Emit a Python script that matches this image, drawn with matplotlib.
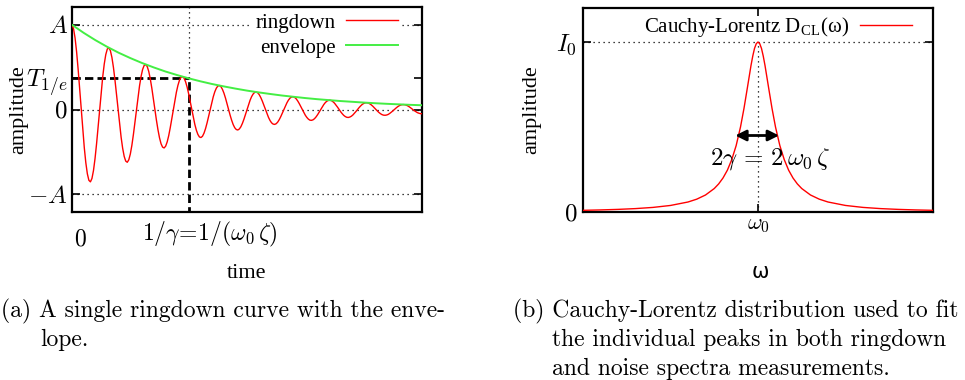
import matplotlib
matplotlib.use('Agg')
import matplotlib.pyplot as plt
import numpy as np

plt.rcParams['mathtext.fontset'] = 'cm'
plt.rcParams['font.family'] = ['Liberation Serif', 'DejaVu Serif']

# ringdown curve, sampled evenly over 0 .. 3/gamma (229 samples)
ringdown = [
    1.000, 0.953, 0.844, 0.680, 0.474, 0.242, 0.000, -0.236, -0.450, -0.628, -0.759, -0.836,
    -0.854, -0.814, -0.720, -0.580, -0.405, -0.207, 0.000, 0.202, 0.384, 0.536, 0.648, 0.714,
    0.729, 0.695, 0.615, 0.496, 0.346, 0.177, 0.000, -0.172, -0.328, -0.458, -0.554, -0.609,
    -0.623, -0.594, -0.525, -0.423, -0.295, -0.151, 0.000, 0.147, 0.280, 0.391, 0.473, 0.520,
    0.532, 0.507, 0.449, 0.361, 0.252, 0.129, 0.000, -0.126, -0.239, -0.334, -0.404, -0.444,
    -0.454, -0.433, -0.383, -0.309, -0.215, -0.110, 0.000, 0.107, 0.204, 0.285, 0.345, 0.380,
    0.388, 0.370, 0.327, 0.264, 0.184, 0.094, 0.000, -0.092, -0.175, -0.244, -0.294, -0.324,
    -0.331, -0.316, -0.279, -0.225, -0.157, -0.080, 0.000, 0.078, 0.149, 0.208, 0.251, 0.277,
    0.283, 0.270, 0.238, 0.192, 0.134, 0.069, 0.000, -0.067, -0.127, -0.178, -0.215, -0.236,
    -0.242, -0.230, -0.204, -0.164, -0.115, -0.059, 0.000, 0.057, 0.109, 0.152, 0.183, 0.202,
    0.206, 0.197, 0.174, 0.140, 0.098, 0.050, 0.000, -0.049, -0.093, -0.130, -0.157, -0.172,
    -0.176, -0.168, -0.149, -0.120, -0.084, -0.043, 0.000, 0.042, 0.079, 0.111, 0.134, 0.147,
    0.150, 0.143, 0.127, 0.102, 0.071, 0.036, 0.000, -0.036, -0.068, -0.094, -0.114, -0.126,
    -0.128, -0.122, -0.108, -0.087, -0.061, -0.031, 0.000, 0.030, 0.058, 0.081, 0.098, 0.107,
    0.110, 0.105, 0.092, 0.075, 0.052, 0.027, 0.000, -0.026, -0.049, -0.069, -0.083, -0.092,
    -0.094, -0.089, -0.079, -0.064, -0.044, -0.023, 0.000, 0.022, 0.042, 0.059, 0.071, 0.078,
    0.080, 0.076, 0.067, 0.054, 0.038, 0.019, 0.000, -0.019, -0.036, -0.050, -0.061, -0.067,
    -0.068, -0.065, -0.058, -0.046, -0.032, -0.017, 0.000, 0.016, 0.031, 0.043, 0.052, 0.057,
    0.058, 0.056, 0.049, 0.040, 0.028, 0.014, 0.000, -0.014, -0.026, -0.037, -0.044, -0.049,
    -0.050,
]
# envelope, sampled every 0.1 over 0 .. 3
envelope = [
    1.000, 0.905, 0.819, 0.741, 0.670, 0.607, 0.549, 0.497, 0.449, 0.407,
    0.368, 0.333, 0.301, 0.273, 0.247, 0.223, 0.202, 0.183, 0.165, 0.150,
    0.135, 0.122, 0.111, 0.100, 0.091, 0.082, 0.074, 0.067, 0.061, 0.055, 0.050,
]
t_end = 3.0
t_decay = 1.0
t_half = 0.368

# Cauchy-Lorentz peak (omega measured from omega_0, in units of gamma)
lor_w = [-10, -9, -8, -7, -6, -5, -4, -3.5, -3, -2.5, -2.25, -2, -1.75, -1.5,
         -1.25, -1, -0.8, -0.6, -0.4, -0.3, -0.2, -0.1, 0,
         0.1, 0.2, 0.3, 0.4, 0.6, 0.8, 1, 1.25, 1.5, 1.75, 2, 2.25, 2.5, 3,
         3.5, 4, 5, 6, 7, 8, 9, 10]
lor_i = [0.0099, 0.0122, 0.0154, 0.0200, 0.0270, 0.0385, 0.0588, 0.0755, 0.100,
         0.138, 0.165, 0.200, 0.246, 0.308, 0.390, 0.500, 0.610, 0.735, 0.862,
         0.917, 0.962, 0.990, 1.000,
         0.990, 0.962, 0.917, 0.862, 0.735, 0.610, 0.500, 0.390, 0.308, 0.246,
         0.200, 0.165, 0.138, 0.100, 0.0755, 0.0588, 0.0385, 0.0270, 0.0200,
         0.0154, 0.0122, 0.0099]
fwhm_left, fwhm_right, fwhm_level = -1.3, 1.2, 0.45

left_yticks = [-1, t_half, 0, 1]
left_ylabels = [r'$-A$', r'$T_{1/e}$', r'$0$', r'$A$']

t_ring = np.linspace(0, t_end, len(ringdown))
t_env = np.linspace(0, t_end, len(envelope))

fig = plt.figure(figsize=(9.65, 3.8), dpi=100)
ax1 = fig.add_axes([72/965, 1-212/380, 350/965, 205/380])
ax2 = fig.add_axes([583/965, 1-212/380, 350/965, 204/380])

dot = dict(color='black', lw=0.9, ls=(0, (1, 3)))
dash = dict(color='black', lw=2, ls=(0, (3, 1.5)))

# ---- (a) ringdown ----
for yv in [-1, 0, 1]:
    ax1.axhline(yv, zorder=1, **dot)
ax1.plot([t_decay, t_decay], [t_half, 1.25], zorder=1, **dot)
ax1.plot([0, t_decay], [t_half, t_half], zorder=3, **dash)
ax1.plot([t_decay, t_decay], [-1.25, t_half], zorder=3, **dash)
ax1.plot(t_ring, ringdown, color='#ff0000', lw=1.0, label='ringdown', zorder=4)
ax1.plot(t_env, envelope, color='#44ee44', lw=1.4, label='envelope', zorder=4)
ax1.set_xlim(0, t_end)
ax1.set_ylim(-1.21, 1.21)
ax1.set_yticks(left_yticks, left_ylabels)
ax1.set_xticks([])
ax1.tick_params(axis='y', labelsize=18, pad=3, direction='in', length=6,
                width=1.2, right=True)
xl = dict(xycoords=('data', 'axes fraction'), textcoords='offset points',
          ha='center', va='center', fontsize=17, annotation_clip=False)
ax1.annotate(r'$0$', xy=(0, 0), xytext=(6, -20.5), **xl)
ax1.annotate(r'$1/\gamma\!=\!1/(\omega_0\,\zeta)$', xy=(t_decay, 0),
             xytext=(15.5, -16), **xl)
leg = ax1.legend(loc='upper right', bbox_to_anchor=(0.94, 0.985),
                 borderaxespad=0, borderpad=0.15, markerfirst=False,
                 handlelength=2.5, handletextpad=0.5, labelspacing=0.25,
                 fontsize=15, frameon=True, fancybox=False)
leg.get_frame().set_edgecolor('none')
leg.get_frame().set_alpha(1)
leg.set_zorder(5)

# ---- (b) Cauchy-Lorentz ----
ax2.axhline(1, zorder=1, **dot)
ax2.plot([0, 0], [0, 1], zorder=1, **dot)
ax2.plot(lor_w, lor_i, color='#ff0000', lw=1.0,
         label=r'Cauchy-Lorentz D$_\mathregular{CL}$(ω)', zorder=4)
ax2.annotate('', xy=(fwhm_left, fwhm_level), xytext=(fwhm_right, fwhm_level),
             arrowprops=dict(arrowstyle='<|-|>', color='black', lw=2,
                             mutation_scale=16, shrinkA=0, shrinkB=0),
             zorder=5)
ax2.text(0.7, 0.31, r'$2\gamma\,=\,2\,\omega_0\,\zeta$', fontsize=18,
         ha='center', va='center', zorder=6)
ax2.set_xlim(-10, 10)
ax2.set_ylim(0, 1.2)
ax2.set_yticks([0, 1], [r'$0$', r'$I_0$'])
ax2.set_xticks([0], [r'$\omega_0$'])
ax2.tick_params(axis='y', labelsize=18, pad=4, direction='in', length=6,
                width=1.2, right=True)
ax2.tick_params(axis='x', labelsize=16, pad=3, direction='in', length=6,
                width=1.2, top=True)
leg2 = ax2.legend(loc='upper right', bbox_to_anchor=(0.945, 0.975),
                  borderaxespad=0, borderpad=0.1, markerfirst=False,
                  handlelength=2.5, handletextpad=0.5, fontsize=15,
                  frameon=False)

for ax in (ax1, ax2):
    for sp in ax.spines.values():
        sp.set_linewidth(1.6)
    ax.set_ylabel('amplitude', fontsize=16)

ax1.yaxis.set_label_coords(-0.125, 0.5)
ax2.yaxis.set_label_coords(-0.118, 0.5)

fig.text(247/965, 1-273/380, 'time', fontsize=16, ha='center', va='center')
fig.text(760/965, 1-272/380, 'ω', fontsize=15, ha='center', va='center',
         family='DejaVu Sans')

cap = dict(fontsize=17, family='cmr10', ha='left', va='center')
fig.text(1/965, 1-311/380, '(a) A single ringdown curve with the enve-', **cap)
fig.text(40/965, 1-340/380, 'lope.', **cap)
fig.text(513/965, 1-311/380, '(b) Cauchy-Lorentz distribution used to fit', **cap)
fig.text(552/965, 1-340/380, 'the individual peaks in both ringdown', **cap)
fig.text(552/965, 1-369/380, 'and noise spectra measurements.', **cap)

fig.savefig('out.png', dpi=100)
